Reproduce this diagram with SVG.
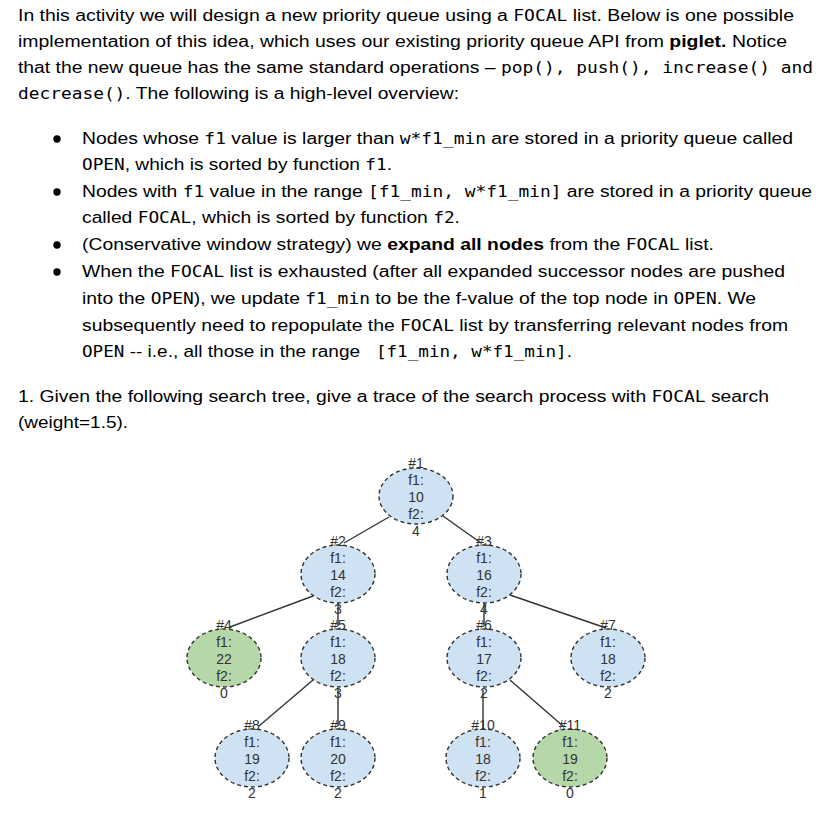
<svg xmlns="http://www.w3.org/2000/svg" width="839" height="831" viewBox="0 0 839 831">
<style>
.t{font-family:"Liberation Sans",Arial,sans-serif;font-size:17.3px;fill:#000;white-space:pre}
.m{font-family:"DejaVu Sans Mono","Liberation Mono",monospace;font-size:16px}
.b{font-weight:bold}
.nl{font-family:"Liberation Sans",Arial,sans-serif;font-size:14px;fill:#333;text-anchor:middle}
.blue{fill:#cfe2f3;stroke:#333;stroke-width:1.4;stroke-dasharray:4 3}
.green{fill:#b6d7a8;stroke:#333;stroke-width:1.4;stroke-dasharray:4 3}
.e{stroke:#333;stroke-width:1.4;fill:none}
</style>
<rect width="839" height="831" fill="#fff"/>
<g id="text">
<text class="t" x="18" y="21" textLength="776" lengthAdjust="spacingAndGlyphs" xml:space="preserve">In this activity we will design a new priority queue using a <tspan class="m">FOCAL</tspan> list. Below is one possible</text>
<text class="t" x="18" y="47" textLength="769" lengthAdjust="spacingAndGlyphs" xml:space="preserve">implementation of this idea, which uses our existing priority queue API from <tspan class="b">piglet.</tspan> Notice</text>
<text class="t" x="18" y="73" textLength="795" lengthAdjust="spacingAndGlyphs" xml:space="preserve">that the new queue has the same standard operations – <tspan class="m">pop(), push(), increase() and</tspan></text>
<text class="t" x="18" y="99" textLength="441" lengthAdjust="spacingAndGlyphs" xml:space="preserve"><tspan class="m">decrease()</tspan>. The following is a high-level overview:</text>
<circle cx="57" cy="139" r="3.7"/>
<circle cx="57" cy="192" r="3.7"/>
<circle cx="57" cy="245" r="3.7"/>
<circle cx="57" cy="272" r="3.7"/>
<text class="t" x="82" y="144" textLength="711" lengthAdjust="spacingAndGlyphs" xml:space="preserve">Nodes whose <tspan class="m">f1</tspan> value is larger than <tspan class="m">w*f1_min</tspan> are stored in a priority queue called</text>
<text class="t" x="82" y="170" textLength="310" lengthAdjust="spacingAndGlyphs" xml:space="preserve"><tspan class="m">OPEN</tspan>, which is sorted by function <tspan class="m">f1</tspan>.</text>
<text class="t" x="82" y="197" textLength="730" lengthAdjust="spacingAndGlyphs" xml:space="preserve">Nodes with <tspan class="m">f1</tspan> value in the range <tspan class="m">[f1_min, w*f1_min]</tspan> are stored in a priority queue</text>
<text class="t" x="82" y="223" textLength="378" lengthAdjust="spacingAndGlyphs" xml:space="preserve">called <tspan class="m">FOCAL</tspan>, which is sorted by function <tspan class="m">f2</tspan>.</text>
<text class="t" x="82" y="250" textLength="632" lengthAdjust="spacingAndGlyphs" xml:space="preserve">(Conservative window strategy) we <tspan class="b">expand all nodes</tspan> from the <tspan class="m">FOCAL</tspan> list.</text>
<text class="t" x="82" y="277" textLength="703" lengthAdjust="spacingAndGlyphs" xml:space="preserve">When the <tspan class="m">FOCAL</tspan> list is exhausted (after all expanded successor nodes are pushed</text>
<text class="t" x="82" y="304" textLength="674" lengthAdjust="spacingAndGlyphs" xml:space="preserve">into the <tspan class="m">OPEN</tspan>), we update <tspan class="m">f1_min</tspan> to be the f-value of the top node in <tspan class="m">OPEN</tspan>. We</text>
<text class="t" x="82" y="331" textLength="706" lengthAdjust="spacingAndGlyphs" xml:space="preserve">subsequently need to repopulate the <tspan class="m">FOCAL</tspan> list by transferring relevant nodes from</text>
<text class="t" x="82" y="357" textLength="490" lengthAdjust="spacingAndGlyphs" xml:space="preserve"><tspan class="m">OPEN</tspan> -- i.e., all those in the range <tspan class="m"> [f1_min, w*f1_min]</tspan>.</text>
<text class="t" x="18" y="402" textLength="751" lengthAdjust="spacingAndGlyphs" xml:space="preserve">1. Given the following search tree, give a trace of the search process with <tspan class="m">FOCAL</tspan> search</text>
<text class="t" x="18" y="428" textLength="110" lengthAdjust="spacingAndGlyphs" xml:space="preserve">(weight=1.5).</text>
</g>
<g id="connectors">
<line class="e" x1="389" y1="517" x2="344" y2="543"/>
<line class="e" x1="443" y1="516" x2="481" y2="543"/>
<line class="e" x1="313" y1="596" x2="230" y2="627"/>
<line class="e" x1="338" y1="601" x2="338" y2="626"/>
<line class="e" x1="484" y1="601" x2="484" y2="626"/>
<line class="e" x1="510" y1="595" x2="606" y2="628"/>
<line class="e" x1="313" y1="680" x2="259" y2="726"/>
<line class="e" x1="338" y1="688" x2="338" y2="726"/>
<line class="e" x1="483" y1="690" x2="483" y2="728"/>
<line class="e" x1="510" y1="680" x2="563" y2="726"/>
</g>
<g id="n1"><ellipse class="blue" cx="416" cy="496" rx="37" ry="28"/><text class="nl"><tspan x="416" y="468">#1</tspan><tspan x="416" y="485">f1:</tspan><tspan x="416" y="502">10</tspan><tspan x="416" y="519">f2:</tspan><tspan x="416" y="536">4</tspan></text></g>
<g id="n2"><ellipse class="blue" cx="338" cy="574" rx="37" ry="29"/><text class="nl"><tspan x="338" y="546">#2</tspan><tspan x="338" y="563">f1:</tspan><tspan x="338" y="580">14</tspan><tspan x="338" y="597">f2:</tspan><tspan x="338" y="614">3</tspan></text></g>
<g id="n3"><ellipse class="blue" cx="484" cy="574" rx="37" ry="29"/><text class="nl"><tspan x="484" y="546">#3</tspan><tspan x="484" y="563">f1:</tspan><tspan x="484" y="580">16</tspan><tspan x="484" y="597">f2:</tspan><tspan x="484" y="614">4</tspan></text></g>
<g id="n4"><ellipse class="green" cx="224" cy="658" rx="37" ry="29"/><text class="nl"><tspan x="224" y="630">#4</tspan><tspan x="224" y="647">f1:</tspan><tspan x="224" y="664">22</tspan><tspan x="224" y="681">f2:</tspan><tspan x="224" y="698">0</tspan></text></g>
<g id="n5"><ellipse class="blue" cx="338" cy="658" rx="37" ry="29"/><text class="nl"><tspan x="338" y="630">#5</tspan><tspan x="338" y="647">f1:</tspan><tspan x="338" y="664">18</tspan><tspan x="338" y="681">f2:</tspan><tspan x="338" y="698">3</tspan></text></g>
<g id="n6"><ellipse class="blue" cx="484" cy="658" rx="37" ry="29"/><text class="nl"><tspan x="484" y="630">#6</tspan><tspan x="484" y="647">f1:</tspan><tspan x="484" y="664">17</tspan><tspan x="484" y="681">f2:</tspan><tspan x="484" y="698">2</tspan></text></g>
<g id="n7"><ellipse class="blue" cx="608" cy="658" rx="37" ry="29"/><text class="nl"><tspan x="608" y="630">#7</tspan><tspan x="608" y="647">f1:</tspan><tspan x="608" y="664">18</tspan><tspan x="608" y="681">f2:</tspan><tspan x="608" y="698">2</tspan></text></g>
<g id="n8"><ellipse class="blue" cx="252" cy="758" rx="37" ry="29"/><text class="nl"><tspan x="252" y="730">#8</tspan><tspan x="252" y="747">f1:</tspan><tspan x="252" y="764">19</tspan><tspan x="252" y="781">f2:</tspan><tspan x="252" y="798">2</tspan></text></g>
<g id="n9"><ellipse class="blue" cx="338" cy="758" rx="37" ry="29"/><text class="nl"><tspan x="338" y="730">#9</tspan><tspan x="338" y="747">f1:</tspan><tspan x="338" y="764">20</tspan><tspan x="338" y="781">f2:</tspan><tspan x="338" y="798">2</tspan></text></g>
<g id="n10"><ellipse class="blue" cx="483" cy="758" rx="37" ry="29"/><text class="nl"><tspan x="483" y="730">#10</tspan><tspan x="483" y="747">f1:</tspan><tspan x="483" y="764">18</tspan><tspan x="483" y="781">f2:</tspan><tspan x="483" y="798">1</tspan></text></g>
<g id="n11"><ellipse class="green" cx="570" cy="758" rx="37" ry="29"/><text class="nl"><tspan x="570" y="730">#11</tspan><tspan x="570" y="747">f1:</tspan><tspan x="570" y="764">19</tspan><tspan x="570" y="781">f2:</tspan><tspan x="570" y="798">0</tspan></text></g>
</svg>
